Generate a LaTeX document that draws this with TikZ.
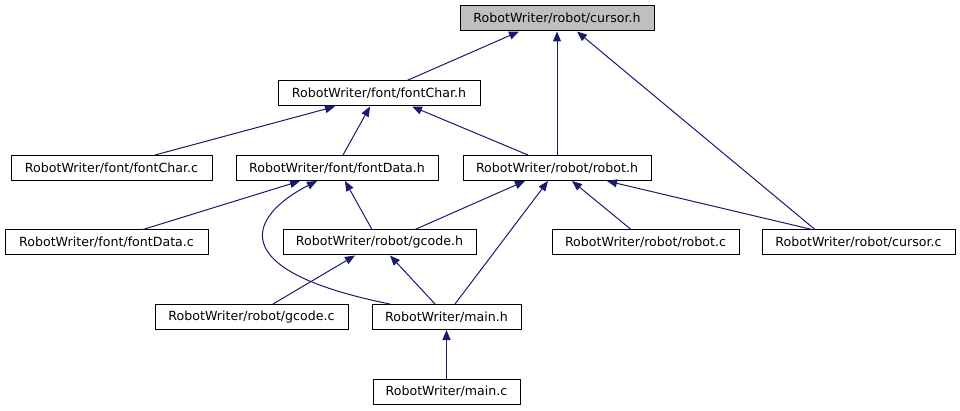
\documentclass[tikz,border=0pt]{standalone}
\usepackage{fontspec}
\setmainfont{DejaVu Sans}
\usetikzlibrary{arrows.meta}
\definecolor{edgeblue}{HTML}{191970}
\definecolor{boxgray}{HTML}{BFBFBF}
\tikzset{
  filebox/.style={draw=black, line width=1pt, fill=white, inner sep=0pt, minimum height=25pt, font=\fontsize{12.6}{15}\selectfont, anchor=center},
  edge/.style={draw=edgeblue, line width=1pt, {Triangle[length=10pt,width=8pt]}-},
}
\begin{document}
\begin{tikzpicture}[x=1pt,y=-1pt]
\useasboundingbox (0,0) rectangle (960,411);
\node[filebox, fill=boxgray, minimum width=194pt] (cursorh) at (557,18.5) {RobotWriter/robot/cursor.h};
\node[filebox, minimum width=202pt] (fontcharh) at (379,93.5) {RobotWriter/font/fontChar.h};
\node[filebox, minimum width=201pt] (fontcharc) at (111.5,168) {RobotWriter/font/fontChar.c};
\node[filebox, minimum width=202pt] (fontdatah) at (337,168) {RobotWriter/font/fontData.h};
\node[filebox, minimum width=188pt] (roboth) at (557,168) {RobotWriter/robot/robot.h};
\node[filebox, minimum width=203pt] (fontdatac) at (106.5,242.5) {RobotWriter/font/fontData.c};
\node[filebox, minimum width=193pt] (gcodeh) at (379.5,242.5) {RobotWriter/robot/gcode.h};
\node[filebox, minimum width=187pt] (robotc) at (645.5,242.5) {RobotWriter/robot/robot.c};
\node[filebox, minimum width=193pt] (cursorc) at (858.5,242.5) {RobotWriter/robot/cursor.c};
\node[filebox, minimum width=193pt] (gcodec) at (251.5,317) {RobotWriter/robot/gcode.c};
\node[filebox, minimum width=149pt] (mainh) at (446.5,317) {RobotWriter/main.h};
\node[filebox, minimum width=147pt] (mainc) at (446.5,391.5) {RobotWriter/main.c};

\draw[edge] ([xshift=-38pt]cursorh.south) -- ([xshift=28pt]fontcharh.north);
\draw[edge] (cursorh.south) -- (roboth.north);
\draw[edge] ([xshift=20pt]cursorh.south) -- ([xshift=-43.5pt]cursorc.north);
\draw[edge] ([xshift=-44pt]fontcharh.south) -- ([xshift=43.5pt]fontcharc.north);
\draw[edge] ([xshift=-9pt]fontcharh.south) -- ([xshift=6pt]fontdatah.north);
\draw[edge] ([xshift=33pt]fontcharh.south) -- ([xshift=-29pt]roboth.north);
\draw[edge] ([xshift=-37pt]fontdatah.south) -- ([xshift=36.5pt]fontdatac.north);
\draw[edge] ([xshift=-20pt]fontdatah.south) .. controls (250,215) and (220,270) .. ([xshift=-56.5pt]mainh.north);
\draw[edge] ([xshift=8pt]fontdatah.south) -- ([xshift=-7.5pt]gcodeh.north);
\draw[edge] ([xshift=-32pt]roboth.south) -- ([xshift=35.5pt]gcodeh.north);
\draw[edge] ([xshift=-9pt]roboth.south) -- ([xshift=8.5pt]mainh.north);
\draw[edge] ([xshift=15pt]roboth.south) -- ([xshift=-14.5pt]robotc.north);
\draw[edge] ([xshift=50pt]roboth.south) -- ([xshift=-46.5pt]cursorc.north);
\draw[edge] ([xshift=-24.5pt]gcodeh.south) -- ([xshift=21.5pt]gcodec.north);
\draw[edge] ([xshift=10.5pt]gcodeh.south) -- ([xshift=-11.5pt]mainh.north);
\draw[edge] (mainh.south) -- (mainc.north);
\end{tikzpicture}
\end{document}
